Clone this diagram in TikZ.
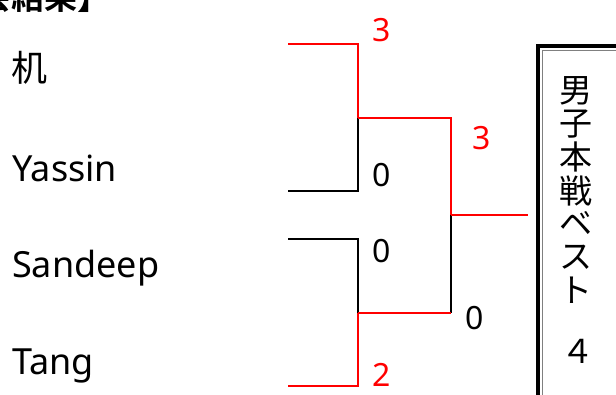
\documentclass[tikz,border=0pt]{standalone}
\usepackage{fontspec}
\setmainfont{Noto Sans}
\newfontfamily\jp{Noto Sans CJK JP}[BoldFont={Noto Sans CJK JP Bold}]
\usetikzlibrary{positioning}

\begin{document}
\begin{tikzpicture}[
    x=1pt, y=-1pt,
    player/.style={anchor=base west,inner sep=0pt,font=\fontsize{36}{40}\selectfont},
    score/.style={anchor=base,inner sep=0pt,font=\fontsize{32}{36}\selectfont},
    boxchar/.style={inner sep=0pt,font=\jp\fontsize{33}{36}\selectfont},
    win/.style={draw=red,line width=1.8pt},
    lose/.style={draw=black,line width=1.8pt}
    ]
    \useasboundingbox (0,0) rectangle (616,395);

    \node[anchor=base west,inner sep=0pt,font=\jp\bfseries\fontsize{33}{36}\selectfont] (title) at (-22,9.5) {会結果】};

    \node[player] (p1) at (11,82) {\jp 机};
    \node[player] (p2) at (12,181.5) {Yassin};
    \node[player] (p3) at (12,278) {Sandeep};
    \node[player] (p4) at (12,374.5) {Tang};

    \coordinate (a1) at (288,44);
    \coordinate (a2) at (288,191);
    \coordinate (a3) at (288,239);
    \coordinate (a4) at (288,386);
    \coordinate (m1) at (358,118);
    \coordinate (m2) at (358,313);
    \coordinate (f) at (451,215);
    \coordinate (c) at (528,215);

    \draw[lose] (a2) -| (m1);
    \draw[lose] (a3) -| (m2);
    \draw[lose] (f |- m2) -- (f);
    \draw[win] (a1) -| (m1);
    \draw[win] (m1) -| (f);
    \draw[win] (f) -- (c);
    \draw[win] (a4) -| (m2);
    \draw[win] (m2) -- (f |- m2);

    \node[score,red] (s1) at (382,41.7) {3};
    \node[score] (s2) at (382,186.7) {0};
    \node[score] (s3) at (382,262.7) {0};
    \node[score,red] (s4) at (382,386.7) {2};
    \node[score,red] (s5) at (481.5,150) {3};
    \node[score] (s6) at (475,329.3) {0};

    % best 4 box
    \begin{scope}
    \clip (0,0) rectangle (616,395);
    \draw[line width=3.6pt] (538,46) rectangle (660,430);
    \draw[gray,line width=1pt] (542.5,50.5) rectangle (660,430);
    \end{scope}
    \foreach \ch [count=\i] in {男,子,本,戦,ベ,ス,ト}
        \node[boxchar] (b\i) at (576,{91+33.2*(\i-1)}) {\ch};
    \node[boxchar] (b8) at (578,351) {４};

\end{tikzpicture}
\end{document}
